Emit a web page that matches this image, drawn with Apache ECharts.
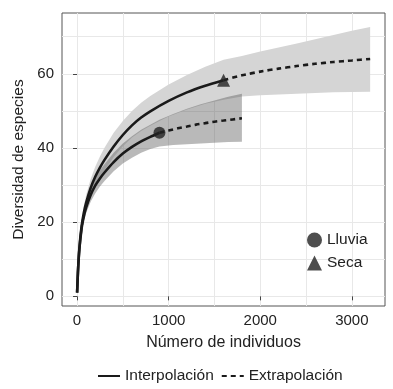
<!DOCTYPE html>
<html><head><meta charset="utf-8">
<script src="https://cdn.jsdelivr.net/npm/echarts@6/dist/echarts.min.js"></script>
<style>html,body{margin:0;padding:0;background:#fff}#c{width:393px;height:389px}</style>
</head><body><div id="c"></div>
<script>
// Axis ticks
const xMajorTicks = [0, 1000, 2000, 3000];
const xGridTicks = [0, 500, 1000, 1500, 2000, 2500, 3000];
const yMajorTicks = [0, 20, 40, 60];
const yGridTicks = [0, 10, 20, 30, 40, 50, 60, 70];

// Lluvia (rainy season)
const lluviaInterpN = [1, 10, 25, 50, 75, 100, 150, 200, 250, 300, 400, 500, 600, 700, 800, 900];
const lluviaInterpS = [1, 6.5, 12.5, 18.3, 21.6, 24, 27.4, 29.9, 31.8, 33.4, 36.2, 38.5, 40.3, 41.8, 43, 44.1];
const lluviaExtN = [900, 1000, 1100, 1200, 1300, 1400, 1500, 1600, 1700, 1800];
const lluviaExtS = [44.1, 44.7, 45.3, 45.8, 46.3, 46.7, 47.1, 47.4, 47.7, 48];
const lluviaObs = [900, 44.1];
const lluviaBandN = [1, 10, 25, 50, 75, 100, 150, 200, 250, 300, 400, 500, 600, 700, 800, 900, 1050, 1200, 1350, 1500, 1650, 1800];
const lluviaBandLo = [1, 6, 11.5, 17.2, 20.3, 22.5, 25.6, 27.8, 29.6, 31.1, 33.7, 35.8, 37.4, 38.7, 39.7, 40.4, 40.8, 41, 41.2, 41.4, 41.6, 41.7];
const lluviaBandHi = [1, 7, 13.5, 19.6, 23, 25.5, 29.2, 31.9, 34, 35.6, 38.7, 41.2, 43.2, 44.9, 46.3, 47.6, 49.2, 50.6, 51.8, 52.8, 53.8, 54.6];

// Seca (dry season)
const secaInterpN = [1, 10, 25, 50, 75, 100, 150, 200, 250, 300, 400, 500, 600, 700, 800, 1000, 1200, 1400, 1600];
const secaInterpS = [1, 6.6, 12.8, 18.9, 22.6, 25.3, 29.3, 32.3, 34.7, 36.8, 40.4, 43.5, 46.1, 48.2, 49.9, 52.7, 55, 56.8, 58.3];
const secaExtN = [1600, 1800, 2000, 2200, 2400, 2600, 2800, 3000, 3200];
const secaExtS = [58.3, 59.6, 60.6, 61.4, 62.1, 62.7, 63.2, 63.6, 64];
const secaObs = [1600, 58.3];
const secaBandN = [1, 10, 25, 50, 75, 100, 150, 200, 250, 300, 400, 500, 600, 700, 800, 900, 1000, 1200, 1400, 1600, 1800, 2000, 2200, 2400, 2600, 2800, 3000, 3200];
const secaBandLo = [1, 6, 11.8, 17.4, 20.8, 23.2, 26.9, 29.6, 32, 34, 37.6, 40.5, 42.8, 44.6, 46, 47.3, 48.5, 50.4, 51.9, 53, 53.9, 54.2, 54.4, 54.6, 54.8, 55, 55.1, 55.2];
const secaBandHi = [1, 7.2, 13.8, 20.4, 24.4, 27.4, 31.7, 35, 37.7, 40.1, 44.1, 47.3, 50, 52.2, 54, 55.6, 57.1, 59.7, 61.9, 63.8, 64.8, 66, 67.1, 68.2, 69.3, 70.5, 71.6, 72.6];

const FONT = '"Liberation Sans", Arial, sans-serif';
const INK = '#1a1a1a';
function zip(a, b) { return a.map((v, i) => [v, b[i]]); }

function bandSeries(name, N, lo, hi, color, z) {
  return {
    type: 'custom', name: name, xAxisIndex: 0, yAxisIndex: 0, z: z, silent: true,
    data: N.map((n, i) => [n, lo[i], hi[i]]),
    renderItem: function (params, api) {
      if (params.dataIndex !== 0) return;
      const pts = [];
      for (let i = 0; i < N.length; i++) pts.push(api.coord([N[i], hi[i]]));
      for (let i = N.length - 1; i >= 0; i--) pts.push(api.coord([N[i], lo[i]]));
      return { type: 'polygon', shape: { points: pts }, style: { fill: color } };
    }
  };
}
function lineSeries(name, N, S, dashed) {
  return {
    type: 'line', name: name, xAxisIndex: 0, yAxisIndex: 0, z: 5,
    data: zip(N, S), symbol: 'none', smooth: 0.2, silent: true,
    lineStyle: { color: INK, width: 2.6, type: dashed ? [5, 4] : 'solid' },
    itemStyle: { color: INK }
  };
}

const XMIN = -164, XMAX = 3362, YMIN = -2.6, YMAX = 76.4;
const plainNum = v => String(v);
const chart = echarts.init(document.getElementById('c'), null, { renderer: 'canvas' });
chart.setOption({
  backgroundColor: '#ffffff',
  animation: false,
  textStyle: { fontFamily: FONT },
  grid: { left: 62, top: 13, width: 323, height: 293, show: true, borderColor: '#555', borderWidth: 1, backgroundColor: 'transparent' },
  xAxis: [
    { type: 'value', min: XMIN, max: XMAX, position: 'bottom',
      axisLine: { show: false }, axisTick: { show: false, customValues: xGridTicks },
      axisLabel: { show: false }, splitLine: { show: true, lineStyle: { color: '#e8e8e8', width: 1 } } },
    { type: 'value', min: XMIN, max: XMAX, position: 'bottom',
      axisLine: { show: false },
      axisTick: { show: true, customValues: xMajorTicks, length: 4, lineStyle: { color: '#444' } },
      axisLabel: { customValues: xMajorTicks, formatter: plainNum, margin: 7, fontSize: 15, color: '#222', fontFamily: FONT },
      splitLine: { show: false },
      name: 'Número de individuos', nameLocation: 'middle', nameGap: 29,
      nameTextStyle: { fontSize: 16, color: '#222', fontFamily: FONT } }
  ],
  yAxis: [
    { type: 'value', min: YMIN, max: YMAX, position: 'left',
      axisLine: { show: false }, axisTick: { show: false, customValues: yGridTicks },
      axisLabel: { show: false }, splitLine: { show: true, lineStyle: { color: '#e8e8e8', width: 1 } } },
    { type: 'value', min: YMIN, max: YMAX, position: 'left',
      axisLine: { show: false },
      axisTick: { show: true, customValues: yMajorTicks, length: 4, lineStyle: { color: '#444' } },
      axisLabel: { customValues: yMajorTicks, formatter: plainNum, margin: 8, fontSize: 15, color: '#222', fontFamily: FONT },
      splitLine: { show: false },
      name: 'Diversidad de especies', nameLocation: 'middle', nameGap: 33, nameRotate: 90,
      nameTextStyle: { fontSize: 15.5, color: '#222', fontFamily: FONT } }
  ],
  legend: [
    { data: ['Lluvia', 'Seca'], orient: 'vertical', left: 302, top: 227,
      itemWidth: 15, itemHeight: 15, itemGap: 7, selectedMode: false,
      textStyle: { fontSize: 15.5, color: '#222', fontFamily: FONT } },
    { data: ['Interpolación', 'Extrapolación'], orient: 'horizontal', left: 92, top: 363,
      itemWidth: 22, itemHeight: 14, itemGap: 7, selectedMode: false,
      itemStyle: { color: 'rgba(0,0,0,0)', borderWidth: 0, opacity: 0 },
      lineStyle: { width: 2 },
      textStyle: { fontSize: 15.5, color: '#222', fontFamily: FONT } }
  ],
  series: [
    bandSeries('bandSeca', secaBandN, secaBandLo, secaBandHi, '#d5d5d5', 1),
    bandSeries('bandLluvia', lluviaBandN, lluviaBandLo, lluviaBandHi, 'rgba(80,80,80,0.4)', 2),
    lineSeries('Interpolación', lluviaInterpN, lluviaInterpS, false),
    lineSeries('Interpolación', secaInterpN, secaInterpS, false),
    lineSeries('Extrapolación', lluviaExtN, lluviaExtS, true),
    lineSeries('Extrapolación', secaExtN, secaExtS, true),
    { type: 'scatter', name: 'Lluvia', xAxisIndex: 0, yAxisIndex: 0, z: 6, silent: true,
      symbol: 'circle', symbolSize: 12, data: [lluviaObs], itemStyle: { color: '#222' } },
    { type: 'scatter', name: 'Seca', xAxisIndex: 0, yAxisIndex: 0, z: 6, silent: true,
      symbol: 'triangle', symbolSize: 13, data: [secaObs], itemStyle: { color: '#222' } }
  ]
});
</script>
</body></html>
